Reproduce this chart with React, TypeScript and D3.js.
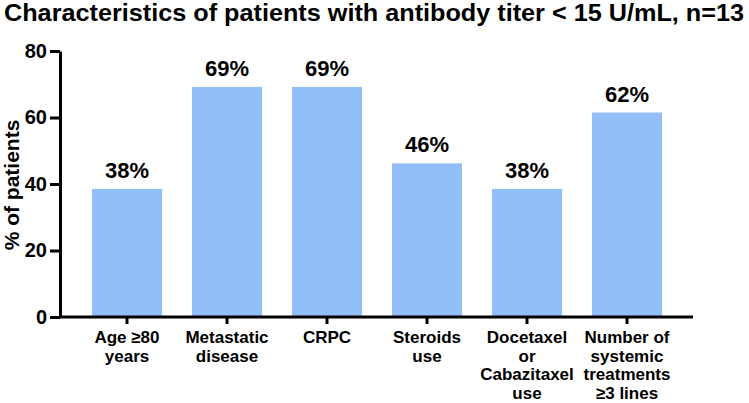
import React, { useEffect, useRef } from "react";
import * as d3 from "d3";

const categories = [
  ["Age \u226580", "years"],
  ["Metastatic", "disease"],
  ["CRPC"],
  ["Steroids", "use"],
  ["Docetaxel", "or", "Cabazitaxel", "use"],
  ["Number of", "systemic", "treatments", "\u22653 lines"],
];
const values = [38.5, 69.2, 69.2, 46.2, 38.5, 61.5];
const valueLabels = ["38%", "69%", "69%", "46%", "38%", "62%"];
const yTicks = [0, 20, 40, 60, 80];

const title = "Characteristics of patients with antibody titer < 15 U/mL, n=13";
const yLabel = "% of patients";

export default function App() {
  const ref = useRef<SVGSVGElement | null>(null);

  useEffect(() => {
    const font = "'Liberation Sans', Arial, sans-serif";
    const svg = d3.select(ref.current);
    svg.selectAll("*").remove();

    const keys = categories.map((c, i) => String(i));

    // scales
    const x = d3.scaleBand().domain(keys).range([77, 677]).paddingInner(0.3).paddingOuter(0.15);
    const y = d3.scaleLinear().domain([0, 80]).range([317, 51]);

    // title
    svg
      .append("text")
      .attr("x", 4)
      .attr("y", 21)
      .attr("font-family", "'Liberation Sans Narrow', " + font)
      .attr("font-weight", "bold")
      .attr("font-size", 23)
      .attr("textLength", 740)
      .attr("lengthAdjust", "spacingAndGlyphs")
      .text(title);

    // bars
    svg
      .append("g")
      .selectAll("rect")
      .data(values)
      .join("rect")
      .attr("x", (d, i) => x(keys[i])!)
      .attr("y", (d) => y(d))
      .attr("width", x.bandwidth())
      .attr("height", (d) => y(0) - y(d))
      .attr("fill", "#93bff8");

    // value labels
    svg
      .append("g")
      .selectAll("text")
      .data(values)
      .join("text")
      .attr("x", (d, i) => x(keys[i])! + x.bandwidth() / 2)
      .attr("y", (d) => y(d) - 11)
      .attr("text-anchor", "middle")
      .attr("font-family", font)
      .attr("font-weight", "bold")
      .attr("font-size", 22)
      .text((d, i) => valueLabels[i]);

    // y axis
    const yAxis = svg
      .append("g")
      .attr("transform", "translate(60,0)")
      .call(d3.axisLeft(y).tickValues(yTicks).tickSize(10).tickPadding(3).tickSizeOuter(0));
    yAxis.select(".domain").attr("stroke", "#000").attr("stroke-width", 3);
    yAxis.selectAll(".tick line").attr("stroke-width", 3);
    yAxis
      .selectAll(".tick text")
      .attr("font-family", font)
      .attr("font-weight", "bold")
      .attr("font-size", 20)
      .attr("fill", "#000");

    // x axis
    const xAxisG = svg.append("g").attr("transform", "translate(0,317)");
    xAxisG
      .append("line")
      .attr("x1", 59)
      .attr("x2", 693)
      .attr("stroke", "#000")
      .attr("stroke-width", 3);
    keys.forEach((k, i) => {
      const cx = x(k)! + x.bandwidth() / 2;
      xAxisG
        .append("line")
        .attr("x1", cx)
        .attr("x2", cx)
        .attr("y1", 0)
        .attr("y2", 7)
        .attr("stroke", "#000")
        .attr("stroke-width", 3);
      const t = xAxisG
        .append("text")
        .attr("text-anchor", "middle")
        .attr("font-family", font)
        .attr("font-weight", "bold")
        .attr("font-size", 17);
      categories[i].forEach((line, j) => {
        t.append("tspan").attr("x", cx).attr("y", 26 + j * 18.5).text(line);
      });
    });

    // y label
    svg
      .append("text")
      .attr("transform", "translate(19,185) rotate(-90)")
      .attr("text-anchor", "middle")
      .attr("font-family", font)
      .attr("font-weight", "bold")
      .attr("font-size", 21)
      .text(yLabel);
  }, []);

  return (
    <svg
      ref={ref}
      width={749}
      height={403}
      style={{ position: "absolute", left: 0, top: 0, background: "#fff" }}
    />
  );
}
